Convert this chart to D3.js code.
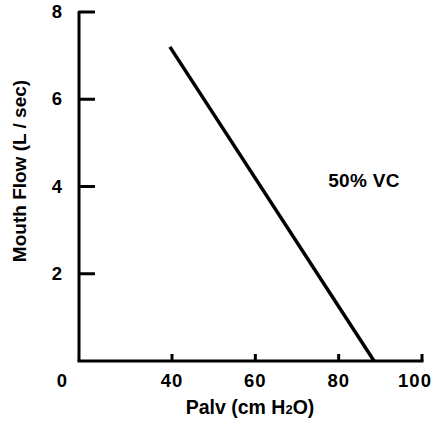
<!DOCTYPE html>
<html>
<head>
<meta charset="utf-8">
<script src="https://cdn.jsdelivr.net/npm/d3@7"></script>
<style>
  body { margin: 0; background: #fff; }
  text { font-family: "Liberation Sans", Arial, sans-serif; font-weight: bold; fill: #000; }
</style>
</head>
<body>
<svg id="chart" width="438" height="423"></svg>
<script>
// 数据
const xTicks = [40, 60, 80, 100];
const yTicks = [2, 4, 6, 8];
const linePoints = [
    {palv: 39.5, flow: 7.2},
    {palv: 88.5, flow: 0}
];
const curveLabel = '50% VC';

let svg = d3.select('#chart');

// 比例尺 (x 轴从 0 断开, 40 起)
let x = d3.scaleLinear().domain([40, 100]).range([172, 422]);
let y = d3.scaleLinear().domain([0, 8]).range([361, 12]);
let x0 = 79;

// y 轴
svg.append('path')
    .attr('d', 'M' + x0 + ',' + y(0) + 'V' + y(8) + 'H' + (x0 + 16))
    .attr('fill', 'none')
    .attr('stroke', '#000')
    .attr('stroke-linejoin', 'round')
    .attr('stroke-width', 3);

svg.selectAll('.ytick')
    .data(yTicks.filter(d => d < 8))
    .enter()
    .append('line')
    .attr('x1', x0)
    .attr('x2', x0 + 16)
    .attr('y1', d => y(d))
    .attr('y2', d => y(d))
    .attr('stroke', '#000')
    .attr('stroke-width', 3);

svg.selectAll('.ylab')
    .data(yTicks)
    .enter()
    .append('text')
    .attr('x', 62)
    .attr('y', d => y(d) + 6)
    .attr('text-anchor', 'end')
    .style('font-size', '18.5px')
    .text(d => d);

// x 轴
svg.append('line')
    .attr('x1', x0 - 1.5)
    .attr('x2', x(100) + 1.5)
    .attr('y1', y(0))
    .attr('y2', y(0))
    .attr('stroke', '#000')
    .attr('stroke-width', 3);

svg.selectAll('.xtick')
    .data(xTicks)
    .enter()
    .append('line')
    .attr('x1', d => x(d))
    .attr('x2', d => x(d))
    .attr('y1', y(0))
    .attr('y2', y(0) - 7)
    .attr('stroke', '#000')
    .attr('stroke-width', 3);

svg.selectAll('.xlab')
    .data(xTicks)
    .enter()
    .append('text')
    .attr('x', d => d === 100 ? x(d) - 7 : x(d))
    .attr('y', 386.5)
    .attr('text-anchor', 'middle')
    .style('font-size', '18.5px')
    .style('letter-spacing', '1px')
    .text(d => d);

svg.append('text')
    .attr('x', 62)
    .attr('y', 386.5)
    .attr('text-anchor', 'middle')
    .style('font-size', '18.5px')
    .text('0');

// 轴标题
svg.append('text')
    .attr('x', 250)
    .attr('y', 414)
    .attr('text-anchor', 'middle')
    .style('font-size', '19.5px')
    .html('Palv (cm H<tspan font-size="13px">2</tspan>O)');

svg.append('text')
    .attr('transform', 'translate(25.5,171) rotate(-90)')
    .attr('text-anchor', 'middle')
    .style('font-size', '19px')
    .text('Mouth Flow (L / sec)');

// 直线
let line = d3.line()
    .x(d => x(d.palv))
    .y(d => y(d.flow));

svg.append('path')
    .datum(linePoints)
    .attr('d', line)
    .attr('fill', 'none')
    .attr('stroke', '#000')
    .attr('stroke-width', 3.5);

svg.append('text')
    .attr('x', 364)
    .attr('y', 187)
    .attr('text-anchor', 'middle')
    .style('font-size', '19px')
    .style('letter-spacing', '0.3px')
    .text(curveLabel);
</script>
</body>
</html>
